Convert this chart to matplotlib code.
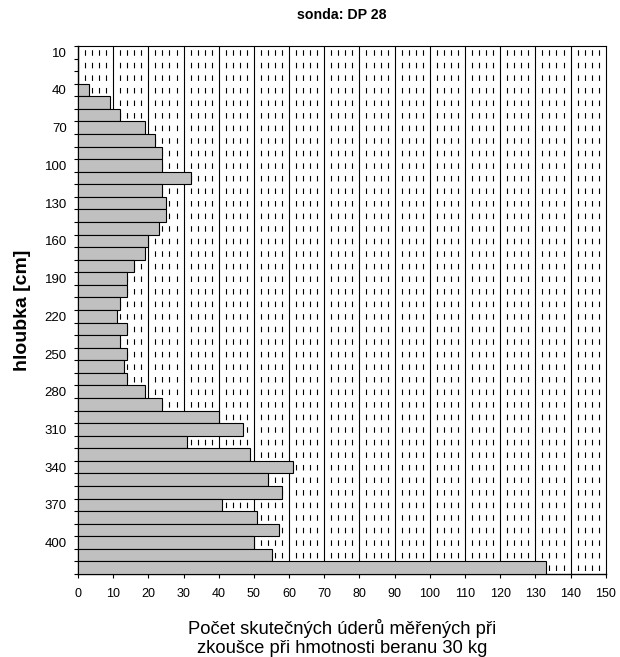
import matplotlib
matplotlib.use("Agg")
import matplotlib.pyplot as plt
import numpy as np

plt.rcParams['font.family'] = ['Liberation Sans', 'DejaVu Sans']

# depth [cm] and blow counts
depths = list(range(10, 430, 10))
blows = [0, 0, 0, 3, 9, 12, 19, 22, 24, 24,
         32, 24, 25, 25, 23, 20, 19, 16, 14, 14,
         12, 11, 14, 12, 14, 13, 14, 19, 24, 40,
         47, 31, 49, 61, 54, 58, 41, 51, 57, 50,
         55, 133]
depth_labels = list(range(10, 410, 30))
x_ticks = list(range(0, 160, 10))

title = "sonda: DP 28"
ylabel = "hloubka [cm]"
xlabel = "Počet skutečných úderů měřených při\nzkoušce při hmotnosti beranu 30 kg"

fig = plt.figure(figsize=(6.2, 6.57), dpi=100)
ax = fig.add_axes([0.1258, 0.1263, 0.977 - 0.1258, 0.930 - 0.1263])

pos = np.arange(len(depths))
ax.barh(pos, blows, height=1.0, color='#C0C0C0', edgecolor='black',
        linewidth=0.8, zorder=3)

ax.set_xlim(0, 150)
ax.set_ylim(len(depths) - 0.5, -0.5)

# vertical grid: solid major every 10, dashed minor every 2
for v in range(10, 150, 10):
    ax.axvline(v, color='black', linewidth=0.8, zorder=1)
for v in range(2, 150, 2):
    if v % 10:
        ax.axvline(v, color='black', linewidth=0.8,
                   linestyle=(8.16, (4.95, 6.36)), zorder=1)

ax.set_xticks(x_ticks)
ax.set_xticklabels([str(t) for t in x_ticks], fontsize=9)
ax.set_yticks([depths.index(d) for d in depth_labels])
ax.set_yticklabels([str(d) for d in depth_labels], fontsize=9.5)
ax.set_yticks(np.arange(-0.5, len(depths), 1.0), minor=True)
ax.tick_params(axis='y', which='major', length=0, pad=8)
ax.tick_params(axis='y', which='minor', length=3, width=0.8, direction='out')
ax.tick_params(axis='x', which='major', length=3, width=0.8, direction='out', pad=7)

for side in ['left', 'bottom']:
    ax.spines[side].set_linewidth(1.0)
for side in ['top', 'right']:
    ax.spines[side].set_linewidth(0.8)

ax.set_title(title, fontsize=10.2, fontweight='bold', pad=19.5)
ax.set_ylabel(ylabel, fontsize=14, fontweight='bold', labelpad=10)
ax.set_xlabel(xlabel, fontsize=13.2, labelpad=14, linespacing=1.15)

fig.savefig("out.png", dpi=100)
